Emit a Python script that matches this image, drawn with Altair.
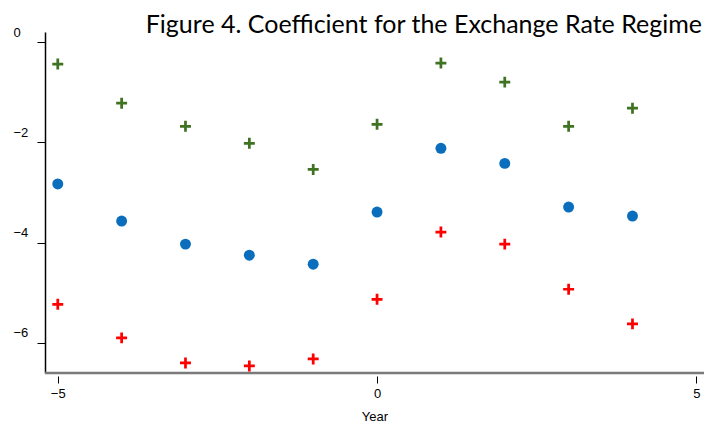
import altair as alt
import pandas as pd

years = [-5, -4, -3, -2, -1, 0, 1, 2, 3, 4]
upper = [-0.44, -1.22, -1.68, -2.02, -2.54, -1.64, -0.42, -0.80, -1.68, -1.32]
coef = [-2.83, -3.57, -4.03, -4.25, -4.43, -3.39, -2.12, -2.42, -3.29, -3.47]
lower = [-5.23, -5.90, -6.40, -6.46, -6.32, -5.13, -3.79, -4.03, -4.93, -5.62]

series_names = ["upper", "coef", "lower"]
series_colors = ["#3f7322", "#0a6ebd", "#ff0000"]
plus = "M-1,-0.25H-0.25V-1H0.25V-0.25H1V0.25H0.25V1H-0.25V0.25H-1Z"
series_shapes = [plus, "circle", plus]

title_text = "Figure 4. Coefficient for the Exchange Rate Regime"
x_domain = [-5.2, 5.12]
y_domain = [-6.6, 0.2]

rows = []
for name, vals in zip(series_names, [upper, coef, lower]):
    for yr, v in zip(years, vals):
        rows.append({"year": yr, "value": v, "series": name})
df = pd.DataFrame(rows)
axis_df = pd.DataFrame({"x": [x_domain[0]], "x2": [x_domain[1]], "y": [y_domain[0]]})
title_df = pd.DataFrame({"t": [title_text]})

W, H = 659, 341
xscale = alt.Scale(domain=x_domain, nice=False, zero=False)
yscale = alt.Scale(domain=y_domain, nice=False, zero=False)

xaxis = alt.Axis(values=[-5, 0, 5], format="d", grid=False, domain=False, offset=3,
                 tickColor="black", tickSize=7, tickWidth=1,
                 labelPadding=4, labelFont="Liberation Sans", labelFontSize=13,
                 labelColor="black", title="Year", titleFont="Liberation Sans",
                 titleFontSize=13, titleFontWeight="normal", titleColor="black",
                 titlePadding=10)
yaxis = alt.Axis(values=[0, -2, -4, -6], format="d", grid=False, domainColor="black", domainWidth=1.5,
                 tickColor="black", tickSize=8, tickWidth=1, labelAlign="left",
                 labelPadding=24, labelOffset=-10, labelFont="Liberation Sans",
                 labelFontSize=13, labelColor="black", title=None)

points = alt.Chart(df).mark_point(filled=True, size=120, opacity=1).encode(
    x=alt.X("year:Q", scale=xscale, axis=xaxis),
    y=alt.Y("value:Q", scale=yscale, axis=yaxis),
    color=alt.Color("series:N", scale=alt.Scale(domain=series_names, range=series_colors), legend=None),
    shape=alt.Shape("series:N", scale=alt.Scale(domain=series_names, range=series_shapes), legend=None),
)

xline = alt.Chart(axis_df).mark_rule(color="#7a7a7a", strokeWidth=2.5).encode(
    x=alt.X("x:Q", scale=xscale),
    x2="x2:Q",
    y=alt.Y("y:Q", scale=yscale),
)

title = alt.Chart(title_df).mark_text(align="right", baseline="alphabetic", font="Lato",
                                      fontSize=25, color="black").encode(
    text="t:N", x=alt.value(W - 2), y=alt.value(1)
)

chart = alt.layer(xline, points, title).properties(
    width=W, height=H,
    autosize=alt.AutoSizeParams(type="none"),
    padding={"left": 37, "top": 24, "right": 0, "bottom": 51},
).configure_view(stroke=None)

chart.save("out.html", embed_options={"renderer": "svg", "actions": False})
